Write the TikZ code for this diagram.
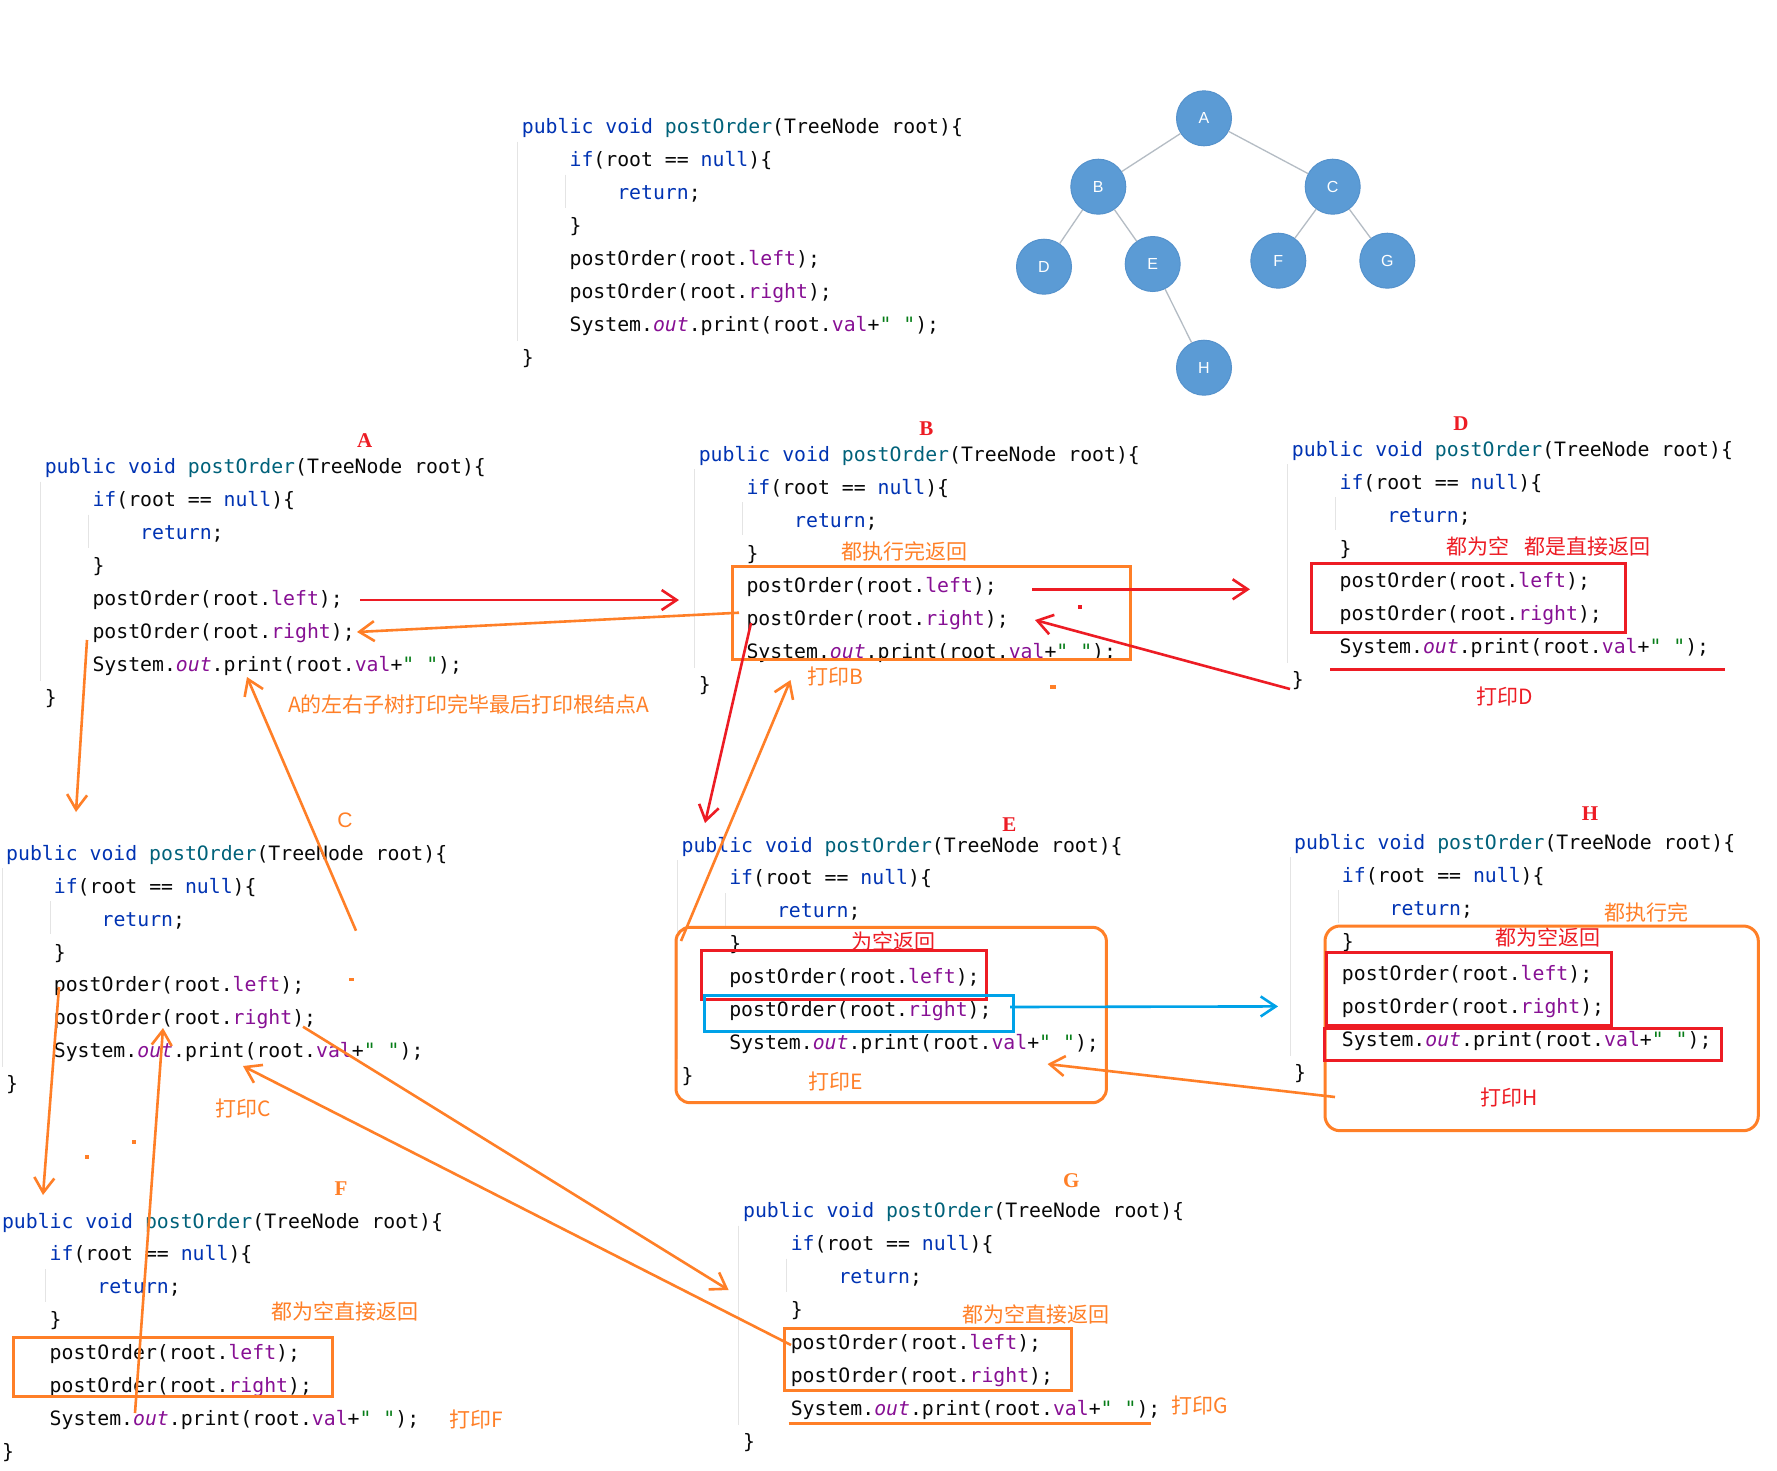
\documentclass[tikz,border=0pt]{standalone}
\usepackage{fontspec}
\setmainfont{Liberation Serif}
\setsansfont{Liberation Sans}
\setmonofont[Ligatures=TeXOff]{DejaVu Sans Mono}
\newfontfamily\cjk{Noto Sans CJK SC}
\usetikzlibrary{arrows.meta}

\definecolor{kwblue}{HTML}{0033B3}
\definecolor{fnteal}{HTML}{00627A}
\definecolor{fdpurple}{HTML}{871094}
\definecolor{strgreen}{HTML}{067D17}
\definecolor{codeblack}{HTML}{080808}
\definecolor{guidegray}{HTML}{E4E4E4}
\definecolor{penred}{HTML}{ED1C24}
\definecolor{penorange}{HTML}{FF7F27}
\definecolor{penblue}{HTML}{00A2E8}
\definecolor{treeblue}{HTML}{5B9BD5}
\definecolor{treeedge}{HTML}{5592CC}
\definecolor{treeline}{HTML}{B4BCC4}

\newcommand{\kw}[1]{\textcolor{kwblue}{#1}}
\newcommand{\fn}[1]{\textcolor{fnteal}{#1}}
\newcommand{\fd}[1]{\textcolor{fdpurple}{#1}}
\newcommand{\strlit}[1]{\textcolor{strgreen}{#1}}

\tikzset{
  code/.style={anchor=west,inner sep=0pt,text=codeblack,text height=14pt,text depth=0pt,
    font=\ttfamily\fontsize{19.8}{20}\selectfont},
  guide/.style={draw=guidegray,line width=1pt},
  note/.style={anchor=west,inner sep=0pt,font=\cjk\fontsize{21}{21}\selectfont},
  tag/.style={inner sep=0pt,font=\bfseries\fontsize{21}{21}\selectfont},
  tnode/.style={circle,minimum size=55pt,inner sep=0pt,fill=treeblue,draw=treeedge,line width=1pt,
    text=white,font=\sffamily\fontsize{16}{16}\selectfont},
  tline/.style={draw=treeline,line width=1.3pt},
  box/.style={line width=3pt},
  pen/.style={line width=2.6pt,-{Straight Barb[length=15pt,width=20pt]}}
}

\newcommand{\postblock}[3]{%
  \draw[guide] (#2-4,#3+15) -- (#2-4,#3+214);
  \draw[guide] (#2+44,#3+48) -- (#2+44,#3+81);
  \node[code] (#1-1) at (#2,#3) {\kw{public} \kw{void} \fn{postOrder}(TreeNode root)\{};
  \node[code] (#1-2) at (#2+47.7,#3+32.9) {\kw{if}(root == \kw{null})\{};
  \node[code] (#1-3) at (#2+95.4,#3+65.8) {\kw{return};};
  \node[code] (#1-4) at (#2+47.7,#3+98.7) {\}};
  \node[code] (#1-5) at (#2+47.7,#3+131.6) {postOrder(root.\fd{left});};
  \node[code] (#1-6) at (#2+47.7,#3+164.5) {postOrder(root.\fd{right});};
  \node[code] (#1-7) at (#2+47.7,#3+197.4) {System.\fd{\itshape out}.print(root.\fd{val}+\strlit{" "});};
  \node[code] (#1-8) at (#2,#3+230.3) {\}};
}

\begin{document}
\begin{tikzpicture}[x=1pt,y=-1pt]
\fill[white] (0,0) rectangle (1777,1470);
\useasboundingbox (0,0) rectangle (1777,1470);

\postblock{top}{521.7}{126.7}
\postblock{pA}{44.6}{466.7}
\postblock{pB}{698.6}{454.3}
\postblock{pD}{1291.7}{449.3}
\postblock{pC}{6}{853.3}
\postblock{pE}{681.4}{845}
\postblock{pH}{1294}{842.3}
\postblock{pF}{1.8}{1221}
\postblock{pG}{742.9}{1210.7}

\node[tnode] (tA) at (1204,118.3) {A};
\node[tnode] (tB) at (1098.3,186.7) {B};
\node[tnode] (tC) at (1332.7,186.7) {C};
\node[tnode] (tD) at (1044,266.7) {D};
\node[tnode] (tE) at (1152.7,264) {E};
\node[tnode] (tF) at (1278.3,260.7) {F};
\node[tnode] (tG) at (1387.3,260.7) {G};
\node[tnode] (tH) at (1204,367.7) {H};
\draw[tline] (tA) -- (tB);
\draw[tline] (tA) -- (tC);
\draw[tline] (tB) -- (tD);
\draw[tline] (tB) -- (tE);
\draw[tline] (tC) -- (tF);
\draw[tline] (tC) -- (tG);
\draw[tline] (tE) -- (tH);

\node[tag,text=penred] (labA) at (364.7,440.7) {A};
\node[tag,text=penred] (labB) at (926.4,428.3) {B};
\node[tag,text=penred] (labD) at (1461,424) {D};
\node[tag,text=penred] (labE) at (1009.3,825) {E};
\node[tag,text=penred] (labH) at (1590,814) {H};
\node[tag,text=penorange,font=\sffamily\fontsize{21}{21}\selectfont] (labC) at (345,820) {C};
\node[tag,text=penorange] (labF) at (341,1188.3) {F};
\node[tag,text=penorange] (labG) at (1071.4,1180.7) {G};

\node[note,text=penorange] (noteA) at (288,704) {A的左右子树打印完毕最后打印根结点A};
\node[note,text=penorange] (doneB) at (841.4,551.7) {都执行完返回};
\node[note,text=penorange] (printB) at (806.8,676) {打印B};
\node[note,text=penred] (nullD) at (1446,546.7) {都为空\hspace{0.75em}都是直接返回};
\node[note,text=penred] (printD) at (1476,696) {打印D};
\node[note,text=penorange] (printC) at (215,1108.3) {打印C};
\node[note,text=penred] (nullE) at (851,941.7) {为空返回};
\node[note,text=penorange] (printE) at (808,1081) {打印E};
\node[note,text=penorange] (doneH) at (1604.3,912.3) {都执行完};
\node[note,text=penred] (nullH) at (1495,937.7) {都为空返回};
\node[note,text=penred] (printH) at (1480.7,1097.3) {打印H};
\node[note,text=penorange] (nullF) at (271.4,1311.7) {都为空直接返回};
\node[note,text=penorange] (printF) at (449.3,1419.3) {打印F};
\node[note,text=penorange] (nullG) at (962.5,1314) {都为空直接返回};
\node[note,text=penorange] (printG) at (1171.4,1405.7) {打印G};

\draw[box,penorange] (732.9,566) rectangle (1130.7,659.3);
\draw[box,penred] (1311,563.3) rectangle (1625,632.3);
\draw[box,penred] (1330,669.3) -- (1725,669.3);
\draw[box,penorange,rounded corners=14pt] (676,927.3) rectangle (1106.4,1102.7);
\draw[box,penred] (701,950.7) rectangle (986.8,999.3);
\draw[box,penblue] (704.6,995.7) rectangle (1013.6,1031.7);
\draw[box,penorange,rounded corners=15pt] (1325,926) rectangle (1758.3,1130.7);
\draw[box,penred] (1326.7,952.7) rectangle (1611.7,1025);
\draw[box,penred] (1324,1028.3) rectangle (1721.7,1060);
\draw[box,penorange] (13.6,1337.3) rectangle (332.9,1396);
\draw[box,penorange] (784,1328.3) rectangle (1071.4,1390);
\draw[box,penorange] (788.6,1423.3) -- (1150.7,1423.3);

\coordinate (AtoB-s) at (360,600);
\coordinate (AtoB-e) at (679,600);
\coordinate (BtoA-s) at (739,612.7);
\coordinate (BtoA-e) at (357,632);
\coordinate (BtoD-s) at (1032,589.3);
\coordinate (BtoD-e) at (1250,589.3);
\coordinate (DtoB-s) at (1290,689);
\coordinate (DtoB-e) at (1035,620);
\coordinate (BtoE-s) at (751,623);
\coordinate (BtoE-e) at (705,823);
\coordinate (EtoB-s) at (681,941);
\coordinate (EtoB-e) at (790.5,680);
\coordinate (EtoH-s) at (1010,1007);
\coordinate (EtoH-e) at (1278,1006.4);
\coordinate (HtoE-s) at (1335,1097);
\coordinate (HtoE-e) at (1047.5,1064);
\coordinate (AtoC-s) at (87,640);
\coordinate (AtoC-e) at (76,812);
\coordinate (CtoA-s) at (356,930.7);
\coordinate (CtoA-e) at (247,677);
\coordinate (CtoF-s) at (59,987);
\coordinate (CtoF-e) at (43,1195);
\coordinate (FtoC-s) at (135,1413);
\coordinate (FtoC-e) at (163,1028);
\coordinate (CtoG-s) at (303,1026.7);
\coordinate (CtoG-e) at (728.6,1290);
\coordinate (GtoC-s) at (791,1345);
\coordinate (GtoC-e) at (243,1066);

\draw[pen,penred] (AtoB-s) -- (AtoB-e);
\draw[pen,penorange] (BtoA-s) -- (BtoA-e);
\draw[pen,penred] (BtoD-s) -- (BtoD-e);
\draw[pen,penred] (DtoB-s) -- (DtoB-e);
\draw[pen,penred] (BtoE-s) -- (BtoE-e);
\draw[pen,penorange] (EtoB-s) -- (EtoB-e);
\draw[pen,penblue] (EtoH-s) -- (EtoH-e);
\draw[pen,penorange] (HtoE-s) -- (HtoE-e);
\draw[pen,penorange] (AtoC-s) -- (AtoC-e);
\draw[pen,penorange] (CtoA-s) -- (CtoA-e);
\draw[pen,penorange] (CtoF-s) -- (CtoF-e);
\draw[pen,penorange] (FtoC-s) -- (FtoC-e);
\draw[pen,penorange] (CtoG-s) -- (CtoG-e);
\draw[pen,penorange] (GtoC-s) -- (GtoC-e);

\fill[penred] (1078,605) rectangle (1082,609);
\fill[penorange] (1050,685) rectangle (1056,689);
\fill[penorange] (349,978) rectangle (354,981);
\fill[penorange] (85,1155) rectangle (89,1159);
\fill[penorange] (132,1140) rectangle (136,1144);
\end{tikzpicture}
\end{document}
